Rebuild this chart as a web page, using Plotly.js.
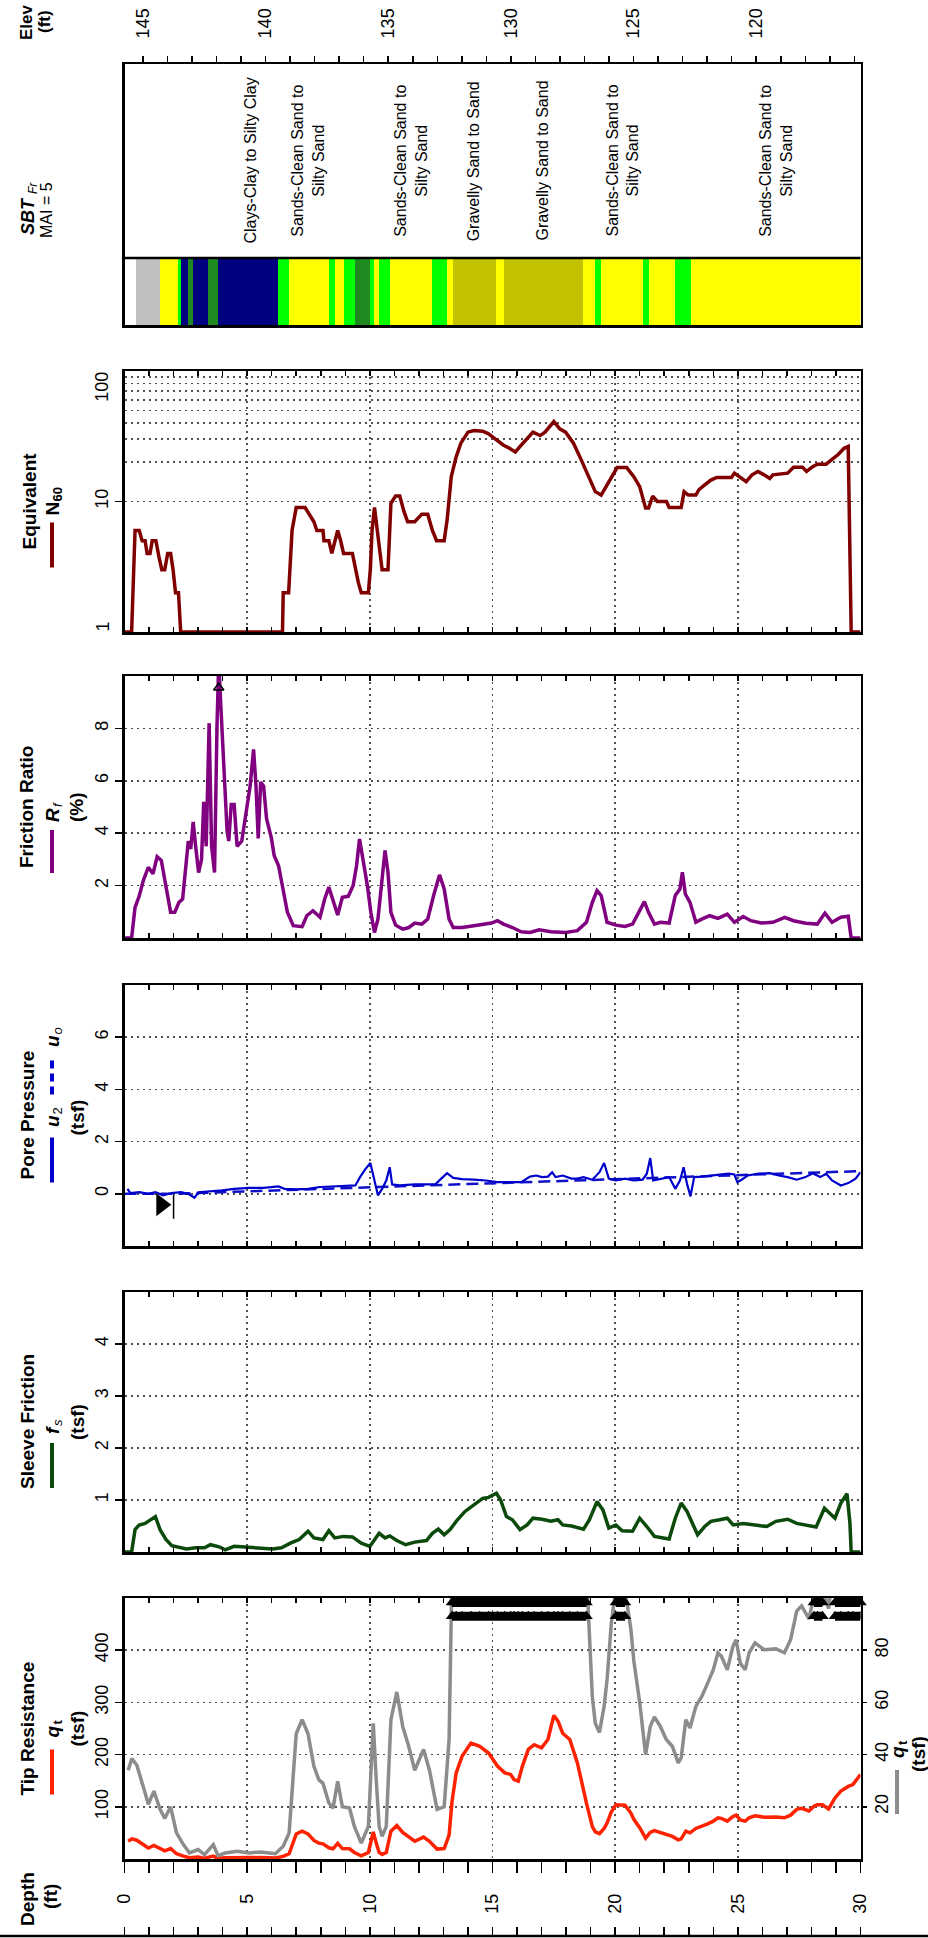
<!DOCTYPE html>
<html><head><meta charset="utf-8">
<script src="https://cdn.plot.ly/plotly-3.0.1.min.js"></script>
<style>html,body{margin:0;padding:0;background:#fff;overflow:hidden}</style>
</head><body><div id="chart" style="width:928px;height:1938px"></div>
<script>
// ---------------- DATA ----------------
const qtDepth = [0.15,0.30,0.50,0.70,0.85,0.97,1.20,1.45,1.64,1.88,2.12,2.40,2.65,3.00,3.26,3.62,3.81,4.10,4.60,5.07,5.55,6.15,6.47,6.71,6.88,7.00,7.24,7.48,7.72,7.92,8.09,8.33,8.50,8.69,8.88,9.17,9.37,9.65,9.94,10.14,10.26,10.38,10.50,10.67,10.86,11.10,11.34,11.59,11.83,12.19,12.43,12.74,13.03,13.23,13.35,13.52,13.76,14.12,14.48,14.84,15.20,15.50,15.74,15.88,16.05,16.22,16.46,16.70,17.00,17.26,17.50,17.67,17.86,18.15,18.46,18.83,19.07,19.19,19.36,19.55,19.67,19.84,20.03,20.40,20.64,20.76,21.00,21.24,21.43,21.60,21.84,22.09,22.33,22.57,22.69,22.88,23.05,23.29,23.53,23.77,24.00,24.19,24.33,24.57,24.80,24.93,25.10,25.30,25.46,25.70,26.07,26.55,26.90,27.15,27.40,27.60,27.90,28.10,28.24,28.45,28.70,28.96,29.20,29.50,29.69,30.00];
const qtValue = [34,38.5,36,29,25,21,26,19,15.5,20,10,5.5,2.3,3.6,1.7,5.5,1.3,2.3,3,2.3,2.7,2,4.9,10,33,48,53.4,48,35.5,30.4,29,21.5,19.5,29.8,20,19.5,12.5,6.1,12.5,52,30.4,12.5,8.7,12.5,53.4,64,50.8,43,34,42,34,19,20,45.7,110,165,197,222,216,203,178,165,162,152,149,178,210,219,213,229,275,264,241,229,184,107,62,52,48.5,58.5,68.7,90,104,103,88,76,60,40,50.8,54.4,50.8,45.7,43.2,36.8,38.7,53.4,50.2,58.5,62.3,67.4,72.5,79,77.7,72.5,81.5,84,75,72.5,79,82.8,80.2,80.5,79,84,95,97,92,101,104,104,96,117,130,139,142.5,162];

const fsDepth = [0,0.29,0.43,0.60,0.84,1.09,1.26,1.45,1.69,1.93,2.17,2.53,2.90,3.26,3.50,3.86,4.10,4.47,5.07,5.67,6.03,6.40,6.76,7.12,7.48,7.72,8.09,8.33,8.57,8.93,9.29,9.65,10.00,10.38,10.62,10.81,11.10,11.46,11.83,12.31,12.55,12.79,13.03,13.27,13.57,13.88,14.24,14.60,14.84,15.16,15.33,15.57,15.81,16.12,16.41,16.65,17.02,17.38,17.67,17.86,18.22,18.71,18.95,19.26,19.50,19.74,20.03,20.28,20.71,21.00,21.29,21.60,21.96,22.20,22.45,22.69,22.93,23.12,23.36,23.65,23.90,24.26,24.57,24.81,25.22,25.70,26.18,26.55,27.03,27.40,27.76,28.19,28.53,28.72,28.96,29.20,29.45,29.57,29.62,30.00];
const fsValue = [0,0,0.43,0.52,0.55,0.62,0.68,0.43,0.24,0.12,0.10,0.06,0.08,0.08,0.14,0.10,0.04,0.11,0.09,0.08,0.06,0.08,0.17,0.24,0.40,0.27,0.24,0.41,0.27,0.30,0.29,0.17,0.11,0.36,0.27,0.31,0.22,0.14,0.19,0.22,0.36,0.44,0.33,0.43,0.62,0.78,0.91,1.03,1.05,1.13,1.00,0.68,0.62,0.43,0.52,0.65,0.63,0.59,0.62,0.52,0.50,0.44,0.62,0.97,0.81,0.46,0.52,0.41,0.40,0.65,0.49,0.30,0.27,0.25,0.65,0.94,0.78,0.59,0.33,0.49,0.59,0.62,0.65,0.52,0.55,0.52,0.49,0.59,0.63,0.55,0.52,0.48,0.84,0.75,0.65,0.94,1.12,0.55,0,0];

const u2Depth = [0.12,0.24,0.60,0.97,1.26,1.57,1.93,2.29,2.60,2.85,3.02,3.50,3.98,4.47,5.07,5.67,6.28,6.52,7.00,7.48,7.97,8.45,8.93,9.41,9.60,9.78,10.02,10.19,10.33,10.50,10.67,10.81,10.91,11.22,11.83,12.31,12.67,12.91,13.15,13.40,13.76,14.24,14.72,15.20,15.69,16.17,16.53,16.78,17.02,17.26,17.43,17.57,17.86,18.22,18.46,18.71,19.07,19.36,19.55,19.74,20.03,20.40,20.76,21.12,21.29,21.43,21.55,21.84,22.20,22.45,22.64,22.79,22.93,23.07,23.22,23.53,23.90,24.26,24.62,24.86,24.98,25.15,25.40,25.84,26.30,26.67,27.03,27.40,27.76,28.05,28.36,28.60,28.84,29.20,29.50,29.80,30.00];
const u2Value = [0.19,0.03,0.06,0,0.06,-0.06,0.03,0.06,0,-0.15,0.06,0.09,0.13,0.19,0.23,0.23,0.28,0.19,0.17,0.19,0.26,0.28,0.31,0.32,0.64,0.90,1.18,0.51,-0.06,0.19,0.51,1.02,0.36,0.32,0.36,0.36,0.36,0.58,0.79,0.61,0.56,0.54,0.51,0.45,0.45,0.45,0.66,0.70,0.64,0.66,0.83,0.64,0.70,0.58,0.58,0.64,0.54,0.83,1.18,0.58,0.51,0.58,0.51,0.54,0.77,1.37,0.51,0.58,0.64,0.19,0.51,1.02,0.38,-0.10,0.64,0.66,0.70,0.74,0.77,0.74,0.45,0.54,0.70,0.77,0.79,0.70,0.64,0.54,0.64,0.79,0.64,0.77,0.51,0.32,0.41,0.58,0.83];

const waterTable = 2.0;          // ft
const u0Depth = [0, waterTable, 30];
const u0Value = [0, 0, 0.87];

const rfDepth = [0,0.29,0.43,0.60,0.77,0.97,1.16,1.33,1.50,1.69,1.88,2.05,2.22,2.37,2.46,2.60,2.70,2.80,2.90,3.02,3.14,3.23,3.33,3.45,3.55,3.67,3.77,3.84,3.93,4.05,4.18,4.25,4.35,4.47,4.59,4.78,4.95,5.12,5.26,5.36,5.45,5.55,5.67,5.79,5.99,6.10,6.28,6.47,6.64,6.88,7.24,7.43,7.68,7.97,8.16,8.33,8.50,8.69,8.88,9.12,9.32,9.46,9.58,9.70,9.90,10.04,10.19,10.33,10.50,10.62,10.74,10.86,11.05,11.34,11.59,11.83,12.12,12.36,12.60,12.84,13.03,13.23,13.40,13.76,14.24,14.60,14.96,15.20,15.45,15.81,16.17,16.53,16.90,17.38,17.98,18.46,18.83,19.07,19.26,19.43,19.67,20.03,20.40,20.71,21.00,21.19,21.36,21.60,21.84,22.20,22.45,22.64,22.74,22.86,23.05,23.29,23.53,23.85,24.19,24.57,24.86,25.22,25.53,25.95,26.43,26.91,27.27,27.76,28.24,28.55,28.84,29.20,29.50,29.62,30.00];
const rfValue = [0,0,1.17,1.6,2.2,2.7,2.45,3.1,2.96,2.0,0.98,0.98,1.36,1.49,2.25,3.7,3.4,4.43,3.5,2.5,3.0,5.2,3.5,8.2,3.5,2.5,8.1,10.5,8.8,6.5,4.1,3.7,5.1,5.1,3.5,3.7,4.7,5.8,7.2,5.8,3.8,5.95,5.8,4.55,3.8,3.15,2.76,1.75,0.98,0.47,0.43,0.85,1.04,0.79,1.49,1.94,1.43,0.88,1.55,1.59,2.0,2.77,3.78,3.15,2.0,0.98,0.21,0.72,2.38,3.34,2.5,0.98,0.49,0.34,0.4,0.57,0.53,0.72,1.62,2.41,1.87,0.72,0.4,0.4,0.47,0.53,0.57,0.66,0.53,0.4,0.24,0.21,0.31,0.24,0.21,0.28,0.6,1.36,1.81,1.62,0.6,0.49,0.44,0.53,1.04,1.39,0.98,0.53,0.6,0.57,1.62,1.87,2.51,1.68,1.36,0.6,0.72,0.85,0.75,0.91,0.6,0.82,0.66,0.57,0.6,0.79,0.66,0.56,0.53,0.95,0.6,0.79,0.83,0,0];

const n60Depth = [0,0.29,0.43,0.60,0.72,0.84,0.92,1.04,1.13,1.28,1.40,1.52,1.64,1.76,1.88,1.98,2.08,2.20,2.29,6.44,6.47,6.69,6.83,7.00,7.36,7.53,7.72,7.84,8.09,8.13,8.33,8.45,8.57,8.69,8.81,8.93,9.29,9.41,9.53,9.65,9.94,10.02,10.09,10.19,10.31,10.38,10.50,10.74,10.86,11.05,11.22,11.39,11.54,11.83,12.12,12.36,12.55,12.72,13.03,13.15,13.32,13.52,13.71,14.00,14.24,14.60,14.84,15.08,15.45,15.69,15.93,16.17,16.41,16.65,16.94,17.14,17.50,17.74,17.98,18.30,18.59,18.95,19.19,19.43,19.67,19.91,20.08,20.47,20.76,21.00,21.24,21.36,21.53,21.72,22.09,22.20,22.69,22.81,22.98,23.29,23.41,23.65,23.90,24.14,24.74,24.86,25.10,25.34,25.58,25.82,26.07,26.30,26.43,27.03,27.27,27.64,27.80,28.05,28.24,28.60,28.84,29.08,29.33,29.50,29.62,30.00];
const n60Value = [1,1,6,6,5,5,4,4,5,5,3.8,3,3,4,4,3,2,2,1,1,2,2,6,9,9,8,7,6,6,5,5,4,5,6,5,4,4,3,2.4,2,2,3,6,9,6,4.8,3,3,9.7,11,11,8.4,7,7,8,8,6,5,5,7.2,15.5,22,28,34,35,34.6,33,30.5,27,25.6,24,27,30,34,32,34,41,36,34,28,21.4,15,11.9,11.2,13.4,16.5,18.2,18.2,15.5,13,8.9,8.9,11,10,10,9,9,11.9,11.2,11.2,12.3,13.4,14.6,15.3,15.3,16.5,15.3,14.2,16,17,16,15,16,16.5,18.3,18.3,17,18.5,19.3,19.3,21,22.8,25.6,26.4,1,1];

// Soil behaviour type layers (top / bottom depth in ft, zone)
const sbtTop    = [0.48,1.45,2.17,2.30,2.60,2.80,3.40,3.80,6.27,6.70,8.33,8.57,8.93,9.41,10.00,10.19,10.38,10.81,12.55,13.15,13.40,15.16,15.45,18.70,19.19,19.43,21.12,21.36,22.45,23.10];
const sbtBottom = [1.45,2.17,2.30,2.60,2.80,3.40,3.80,6.27,6.70,8.33,8.57,8.93,9.41,10.00,10.19,10.38,10.81,12.55,13.15,13.40,15.16,15.45,18.70,19.19,19.43,21.12,21.36,22.45,23.10,30.00];
const sbtZone   = ['sens','sand','sandmix','clay','siltmix','clay','siltmix','clay','sandmix','sand','sandmix','sand','sandmix','siltmix','sandmix','sand','sandmix','sand','sandmix','sand','gravel','sand','gravel','sand','sandmix','sand','sandmix','sand','sandmix','sand'];
const sbtLabels = ['Clays-Clay to Silty Clay','Sands-Clean Sand to<br>Silty Sand','Sands-Clean Sand to<br>Silty Sand','Gravelly Sand to Sand','Gravelly Sand to Sand','Sands-Clean Sand to<br>Silty Sand','Sands-Clean Sand to<br>Silty Sand'];
const sbtLabelDepth = [5.10,7.47,11.67,14.22,17.00,20.30,26.55];

const groundElev = 145.75;  // ft at depth 0

const qtTicks = [100,200,300,400];
const qtScaledTicks = [20,40,60,80];
const fsTicks = [1,2,3,4];
const ppTicks = [0,2,4,6];
const rfTicks = [2,4,6,8];
const n60Ticks = [10];

// ---------------- LAYOUT HELPERS ----------------
const FONT = 'Liberation Sans, Arial, Helvetica, sans-serif';
const W = 928, H = 1938;
const X0 = 124.5, X1 = 860.5;
const XD = [X0/W, X1/W];
const P = {sbt:[64,325], n60:[371,632], rf:[676,938], pp:[985,1246], fs:[1292,1552], qt:[1598,1859]};
const dom = p => [1 - p[1]/H, 1 - p[0]/H];
const xp = v => v/W, yp = v => 1 - v/H;
const GRID = {showgrid:true, gridcolor:'#505050', griddash:'2px,4px', gridwidth:1.5};
const zoneColor = {sens:'#c0c0c0', sand:'#ffff00', sandmix:'#00ff00', clay:'#000080', siltmix:'#1f8a1f', gravel:'#c2c200'};
const LW = 2.5;

function xAxis(anchor, extra){
  return Object.assign({domain:XD, anchor:anchor, range:[0,30], autorange:false, showline:true, linecolor:'#000', linewidth:LW,
    mirror:'allticks', ticks:'inside', ticklen:5, tickwidth:1.5, tickcolor:'#000', tick0:0, dtick:5,
    showticklabels:false, zeroline:false, fixedrange:true,
    minor:{dtick:1, tick0:0, ticks:'inside', ticklen:5, tickwidth:1.5, tickcolor:'#000', showgrid:false}}, GRID, extra||{});
}
function yAxis(anchor, panel, range, tickvals, extra){
  return Object.assign({domain:dom(panel), anchor:anchor, range:range, autorange:false, tickmode:'array', tickvals:tickvals,
    showline:true, linecolor:'#000', linewidth:LW, mirror:true, ticks:'outside', ticklen:7, tickwidth:1.5, tickcolor:'#000',
    tickangle:-90, tickfont:{size:18, color:'#000'}, zeroline:false, fixedrange:true}, GRID, extra||{});
}
function A(text, x, y, size, extra){
  return Object.assign({text:text, x:xp(x), y:yp(y), xref:'paper', yref:'paper', showarrow:false, textangle:-90,
    xanchor:'center', yanchor:'middle', font:{size:size, color:'#000', family:FONT}}, extra||{});
}
// symbol with subscript drawn as two rotated texts (main reads upward, subscript follows above and slightly right)
function S(main, sub, x, y, mainOff, subOff){
  return [A(main, x, y + mainOff, 19), A(sub, x + 5, y - subOff, 13)];
}
function L(x, y0, y1, color, dash){
  return {type:'line', xref:'paper', yref:'paper', x0:xp(x), x1:xp(x), y0:yp(y0), y1:yp(y1), line:{color:color, width:4, dash:dash||'solid'}};
}
const center = p => (p[0]+p[1])/2;
const cQt = center(P.qt), cFs = center(P.fs), cPp = center(P.pp), cRf = center(P.rf), cN = center(P.n60);
const cQtR = 1750;

// ---------------- TRACES ----------------
const over = (vals, lim, level) => vals.map(v => v > lim ? level : null);
const traces = [
  {x:qtDepth, y:qtValue, xaxis:'x', yaxis:'y7', mode:'lines', line:{color:'#8c8c8c', width:3.5}},
  {x:qtDepth, y:qtValue, xaxis:'x', yaxis:'y', mode:'lines', line:{color:'#ff2200', width:3.5}},
  {x:qtDepth, y:over(qtValue,100,98.3), xaxis:'x', yaxis:'y7', mode:'lines+markers', line:{color:'#000', width:9}, marker:{symbol:'triangle-up', size:11, color:'#000'}, cliponaxis:false},
  {x:qtDepth, y:over(qtValue,100,93.0), xaxis:'x', yaxis:'y7', mode:'lines+markers', line:{color:'#000', width:9}, marker:{symbol:'triangle-up', size:11, color:'#000'}},
  {x:fsDepth, y:fsValue, xaxis:'x2', yaxis:'y2', mode:'lines', line:{color:'#0b4a0b', width:3.5}},
  {x:u0Depth, y:u0Value, xaxis:'x3', yaxis:'y3', mode:'lines', line:{color:'#1010c8', width:2.5, dash:'12px,6px'}},
  {x:u2Depth, y:u2Value, xaxis:'x3', yaxis:'y3', mode:'lines', line:{color:'#0000cc', width:2.2}},
  {x:[waterTable-0.5], y:[-0.42], xaxis:'x3', yaxis:'y3', mode:'markers', marker:{symbol:'triangle-right', size:20, color:'#000'}},
  {x:[waterTable], y:[-0.5], xaxis:'x3', yaxis:'y3', mode:'markers', marker:{symbol:'line-ns-open', size:17, color:'#000', line:{color:'#000', width:1.5}}},
  {x:rfDepth, y:rfValue, xaxis:'x4', yaxis:'y4', mode:'lines', line:{color:'#800080', width:3.5}},
  {x:rfDepth, y:over(rfValue,10,9.55), xaxis:'x4', yaxis:'y4', mode:'markers', marker:{symbol:'triangle-up-open', size:9, color:'#000', line:{width:1.5, color:'#000'}}},
  {x:n60Depth, y:n60Value, xaxis:'x5', yaxis:'y5', mode:'lines', line:{color:'#800000', width:3.5}},
  {type:'bar', x:sbtTop.map((t,i)=>(t+sbtBottom[i])/2), width:sbtTop.map((t,i)=>sbtBottom[i]-t), y:sbtTop.map(()=>0.255), base:0,
   xaxis:'x6', yaxis:'y6', marker:{color:sbtZone.map(z=>zoneColor[z]), line:{width:0}}},
  {x:[], y:[], xaxis:'x8', yaxis:'y8', mode:'lines'},
  {x:[], y:[], xaxis:'x9', yaxis:'y', mode:'lines'},
  {x:[], y:[], xaxis:'x10', yaxis:'y6', mode:'lines'}
];
traces.forEach(t => { t.showlegend = false; t.hoverinfo = 'skip'; });

// ---------------- LAYOUT ----------------
const annotations = [
  A('<b>Elev</b>', 27, 22, 17), A('<b>(ft)</b>', 45, 22, 17),
  A('<b><i>SBT</i></b>', 28, 216, 18), A('<i>Fr</i>', 33, 188, 12), A('MAI = 5', 46, 210, 16),
  A('<b>Equivalent</b>', 29, cN, 19),
  A('100', 102, 386.7, 18), A('1', 102, 626.5, 18),
  A('<b>Friction Ratio</b>', 27, cRf, 19), A('<b>(%)</b>', 77, cRf, 19),
  A('<b>Pore Pressure</b>', 27, cPp, 19), A('<b>(tsf)</b>', 77, cPp+2, 19),
  A('<b>Sleeve Friction</b>', 27, cFs, 19), A('<b>(tsf)</b>', 77, cFs, 19),
  A('<b>Tip Resistance</b>', 27, cQt, 19), A('<b>(tsf)</b>', 77, cQt, 19),
  A('<b>(tsf)</b>', 918, cQtR+4, 19),
  A('<b>Depth</b>', 27, 1899, 19), A('<b>(ft)</b>', 50, 1897, 19)
].concat(
  S('<b>N</b>', '<b>60</b>', 52, cN, 7, 7),
  S('<b><i>R</i></b>', '<i>f</i>', 52, cRf+6, 2, 8),
  S('<b><i>u</i></b>', '2', 52, cPp+2, 3.5, 6),
  S('<b><i>u</i></b>', '<i>o</i>', 52, cPp-78, 3.5, 6),
  S('<b><i>f</i></b>', '<i>s</i>', 52, cFs+5, 3, 4),
  S('<b><i>q</i></b>', '<b>t</b>', 52, cQt+1, 2, 7),
  S('<b><i>q</i></b>', '<b>t</b>', 897, cQtR, 2, 7)
).concat(sbtLabels.map((t,i) => ({text:t, x:sbtLabelDepth[i], y:yp(161), xref:'x6', yref:'paper', showarrow:false, textangle:-90,
     xanchor:'center', yanchor:'middle', align:'center', font:{size:16, color:'#000', family:FONT}})));

const layout = {
  width:W, height:H, margin:{l:0, r:0, t:0, b:0}, paper_bgcolor:'#fff', plot_bgcolor:'#fff',
  font:{family:FONT, color:'#000', size:18}, showlegend:false, bargap:0,
  xaxis: xAxis('y', {mirror:true, ticks:'outside', ticklen:11, showticklabels:true, tickangle:-90, tickfont:{size:18},
                     ticklabelstandoff:14, minor:{dtick:1, tick0:0, ticks:'outside', ticklen:11, tickwidth:1.5, tickcolor:'#000', showgrid:false}}),
  xaxis2: xAxis('y2'), xaxis3: xAxis('y3'), xaxis4: xAxis('y4'), xaxis5: xAxis('y5'),
  xaxis6: xAxis('y6', {mirror:true, ticks:'', showgrid:false, minor:{ticks:'', showgrid:false}}),
  xaxis8: {domain:XD, anchor:'y8', side:'top', range:[0,30], autorange:false, ticks:'outside', ticklen:8, tickwidth:1.5, tickcolor:'#000',
           dtick:1, tick0:0, showline:false, showgrid:false, showticklabels:false, zeroline:false, fixedrange:true},
  xaxis9: {overlaying:'x', anchor:'y', side:'top', range:[0,30], autorange:false, ticks:'inside', ticklen:5, tickwidth:1.5, tickcolor:'#000',
           dtick:1, tick0:0, showline:false, showgrid:false, showticklabels:false, zeroline:false, fixedrange:true},
  xaxis10: {overlaying:'x6', anchor:'y6', side:'top', range:[groundElev, groundElev-30], autorange:false, ticks:'outside', ticklen:7,
            tickwidth:1.5, tickcolor:'#000', tick0:0, dtick:5, showline:false, showgrid:false, showticklabels:true, tickangle:-90,
            tickfont:{size:18}, ticklabelstandoff:14, zeroline:false, fixedrange:true,
            minor:{dtick:1, tick0:0, ticks:'outside', ticklen:7, tickwidth:1.5, tickcolor:'#000', showgrid:false}},
  yaxis: yAxis('x', P.qt, [0,500], qtTicks),
  yaxis7: {overlaying:'y', anchor:'x', side:'right', range:[0,100], autorange:false, tickmode:'array', tickvals:qtScaledTicks,
           ticks:'outside', ticklen:5, tickwidth:1.5, tickcolor:'#000', tickangle:-90, tickfont:{size:18}, showline:false,
           showgrid:false, zeroline:false, fixedrange:true},
  yaxis2: yAxis('x2', P.fs, [0,5], fsTicks),
  yaxis3: yAxis('x3', P.pp, [-2,8], ppTicks),
  yaxis4: yAxis('x4', P.rf, [0,10], rfTicks),
  yaxis5: yAxis('x5', P.n60, [0,2], n60Ticks, {type:'log',
           minor:{tickmode:'array', tickvals:[20,30,40,50,60,70,80,90], showgrid:true, gridcolor:'#505050', griddash:'2px,4px', gridwidth:1.5, ticks:''}}),
  yaxis6: yAxis('x6', P.sbt, [0,1], [], {showgrid:false, ticks:'', showticklabels:false}),
  yaxis8: {domain:[0, 2/H], anchor:'x8', visible:false, range:[0,1], fixedrange:true},
  shapes: [
    {type:'line', xref:'paper', yref:'paper', x0:0, x1:1, y0:yp(1936), y1:yp(1936), line:{color:'#000', width:2.5}},
    {type:'line', xref:'paper', yref:'paper', x0:XD[0], x1:XD[1], y0:yp(258), y1:yp(258), line:{color:'#000', width:2.5}},
    L(52, cQt+21, cQt+66, '#ff2200'),
    L(897, cQtR+20, cQtR+64, '#8c8c8c'),
    L(52, cFs+21, cFs+66, '#0b4a0b'),
    L(52, cPp+22, cPp+67, '#0000cc'),
    L(52, cPp-55, cPp-18, '#0000cc', '8px,5px'),
    L(52, cRf+23, cRf+66, '#800080'),
    L(52, cN+21, cN+66, '#800000')
  ],
  annotations: annotations
};

Plotly.newPlot('chart', traces, layout, {displayModeBar:false, staticPlot:true});
</script></body></html>
